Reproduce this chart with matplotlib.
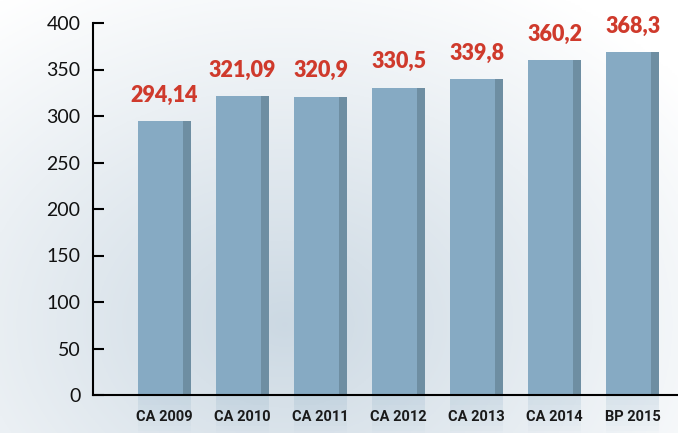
import numpy as np
import matplotlib.pyplot as plt

# Values
categories = ['CA 2009', 'CA 2010', 'CA 2011', 'CA 2012', 'CA 2013', 'CA 2014', 'BP 2015']
values = [294.14, 321.09, 320.9, 330.5, 339.8, 360.2, 368.3]
value_labels = ['294,14', '321,09', '320,9', '330,5', '339,8', '360,2', '368,3']
y_ticks = [0, 50, 100, 150, 200, 250, 300, 350, 400]

front_color = '#86aac3'
side_color = '#6e8ea2'
red = '#cf3a2c'

fig = plt.figure(figsize=(6.78, 4.33), dpi=100)

# Background: soft blue-grey glow, white towards the top right
bg = fig.add_axes([0, 0, 1, 1])
yy, xx = np.mgrid[0:1:200j, 0:1:300j]
dist = np.sqrt(((xx - 0.42) / 0.75) ** 2 + ((yy - 0.25) / 0.9) ** 2)
shade = np.clip(dist, 0, 1)
c_in = np.array([0.80, 0.85, 0.89])
c_out = np.array([1.0, 1.0, 1.0])
img = c_in[None, None, :] * (1 - shade[..., None]) + c_out[None, None, :] * shade[..., None]
bg.imshow(img, extent=[0, 1, 0, 1], origin='lower', aspect='auto')
bg.axis('off')

ax = fig.add_axes([93 / 678, 38 / 433, 1 - 93 / 678, 372 / 433])
ax.patch.set_alpha(0)

x = np.arange(len(categories))
front_w = 0.577
side_w = 0.103
left = x - 0.34

ax.bar(left, values, width=front_w, align='edge', color=front_color, zorder=2)
ax.bar(left + front_w, values, width=side_w, align='edge', color=side_color, zorder=2)

# faded reflection below the axis line
for i, a in enumerate(np.linspace(0.22, 0.02, 8)):
    ax.bar(left, -5.5, bottom=-5.5 * i, width=front_w + side_w, align='edge',
           color=front_color, alpha=a, clip_on=False, zorder=1, linewidth=0)

for xi, v, lab in zip(x, values, value_labels):
    ax.annotate(lab, (xi, v), xytext=(0, 11), textcoords='offset points',
                ha='center', va='bottom', color=red, fontsize=15.5,
                fontweight='heavy', family='Lato')

ax.set_xlim(-0.917, 6.58)
ax.set_ylim(0, 400)
ax.set_yticks(y_ticks)
ax.set_yticklabels([str(t) for t in y_ticks], fontsize=14, family='Lato', color='#111111')
ax.set_xticks(x)
ax.set_xticklabels(categories, fontsize=10.5, fontweight='bold', family='Roboto',
                   color='#1a1a1a')

ax.tick_params(axis='y', direction='in', length=8, width=1.5, pad=9)
ax.tick_params(axis='x', length=0, pad=11)
for s in ['top', 'right']:
    ax.spines[s].set_visible(False)
ax.spines['left'].set_linewidth(1.5)
ax.spines['bottom'].set_linewidth(1.5)
ax.spines['bottom'].set_zorder(3)

fig.savefig('out.png', dpi=100)
